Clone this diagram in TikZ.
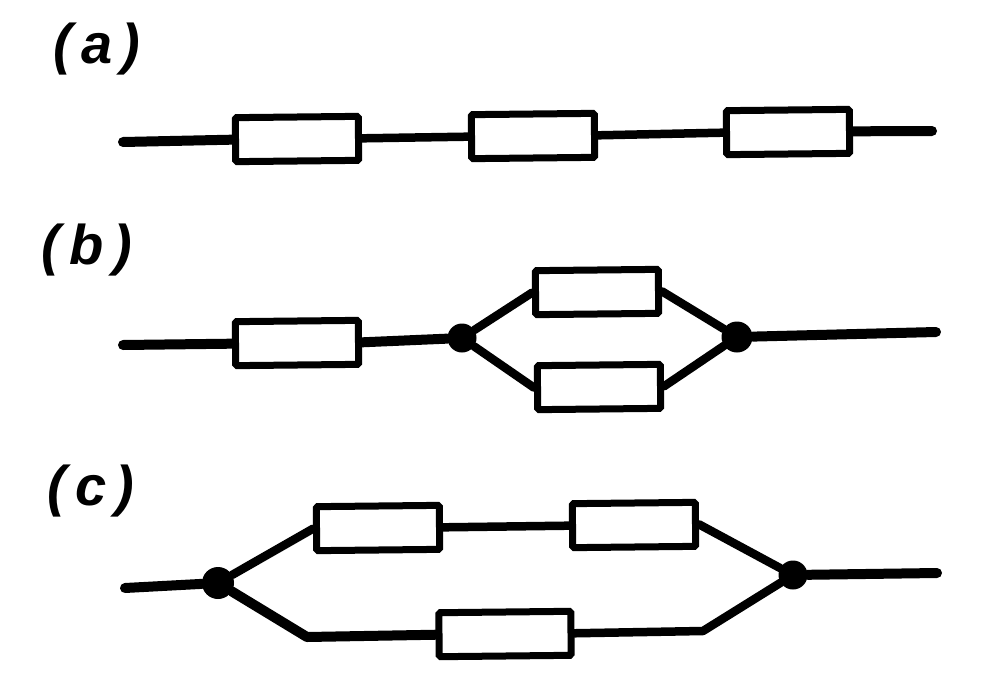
\documentclass[tikz,border=0pt]{standalone}
\usepackage{fontspec}
\usetikzlibrary{backgrounds}
\setmainfont{Liberation Sans}
\tikzset{
 px/.style={x=1pt,y=-1pt},
 res/.style={draw=black,line width=7pt,fill=white,rounded corners=1.5pt,minimum width=123pt,minimum height=44pt,inner sep=0pt,rotate=0.6},
 wire/.style={line width=10pt,line cap=round,line join=round,black},
 thin wire/.style={line width=8.5pt,line cap=round,line join=round,black},
 junction/.style={circle,fill=black,inner sep=0pt,minimum size=28pt},
 lab/.style={font=\bfseries\itshape\fontsize{56}{56}\selectfont,inner sep=0pt,black}
}
\begin{document}
\begin{tikzpicture}[px]
\useasboundingbox (0,0) rectangle (982,696);
\coordinate (a0) at (123,142); \coordinate (a1) at (932,131);
\coordinate (b0) at (123,345); \coordinate (b1) at (936,332);
\coordinate (c0) at (125,588); \coordinate (c1) at (937,573);
\coordinate (cb1) at (307,637); \coordinate (cb2) at (703,631);
\node[lab] (la) at (97,49) {(\,a\,)};
\node[lab] (lb) at (87,250) {(\,b\,)};
\node[lab] (lc) at (91,491) {(\,c\,)};
\node[res] (r1) at (297,139) {};
\node[res] (r2) at (533,136) {};
\node[res] (r3) at (788,132) {};
\node[res] (r4) at (297,343) {};
\node[res] (r5) at (597,292) {};
\node[res] (r6) at (599,387) {};
\node[res] (r7) at (378,528) {};
\node[res] (r8) at (634,525) {};
\node[res,minimum width=132pt] (r9) at (505,634) {};
\node[junction,minimum size=29pt] (j1) at (462,338) {};
\node[junction,minimum size=31pt] (j2) at (737,337) {};
\node[junction,minimum size=32pt] (j3) at (218,583) {};
\node[junction,minimum size=29pt] (j4) at (793,575) {};
\begin{pgfonlayer}{background}
\draw[wire] (a0) -- (r1.west);
\draw[thin wire] (r1.east) -- (r2.west);
\draw[thin wire] (r2.east) -- (r3.west);
\draw[wire] (r3.east) -- (a1);
\draw[wire] (b0) -- (r4.west);
\draw[wire] (r4.east) -- (j1);
\draw[wire] (j2) -- (b1);
\draw[thin wire] (j1) -- (r5.west);
\draw[thin wire] (r5.east) -- (j2);
\draw[thin wire] (j1) -- (r6.west);
\draw[thin wire] (r6.east) -- (j2);
\draw[wire] (c0) -- (j3);
\draw[wire] (j4) -- (c1);
\draw[thin wire] (j3) -- (r7.west);
\draw[thin wire] (r7.east) -- (r8.west);
\draw[thin wire] (r8.east) -- (j4);
\draw[wire] (j3) -- (cb1) -- (r9.west);
\draw[thin wire] (r9.east) -- (cb2) -- (j4);
\end{pgfonlayer}
\end{tikzpicture}
\end{document}
